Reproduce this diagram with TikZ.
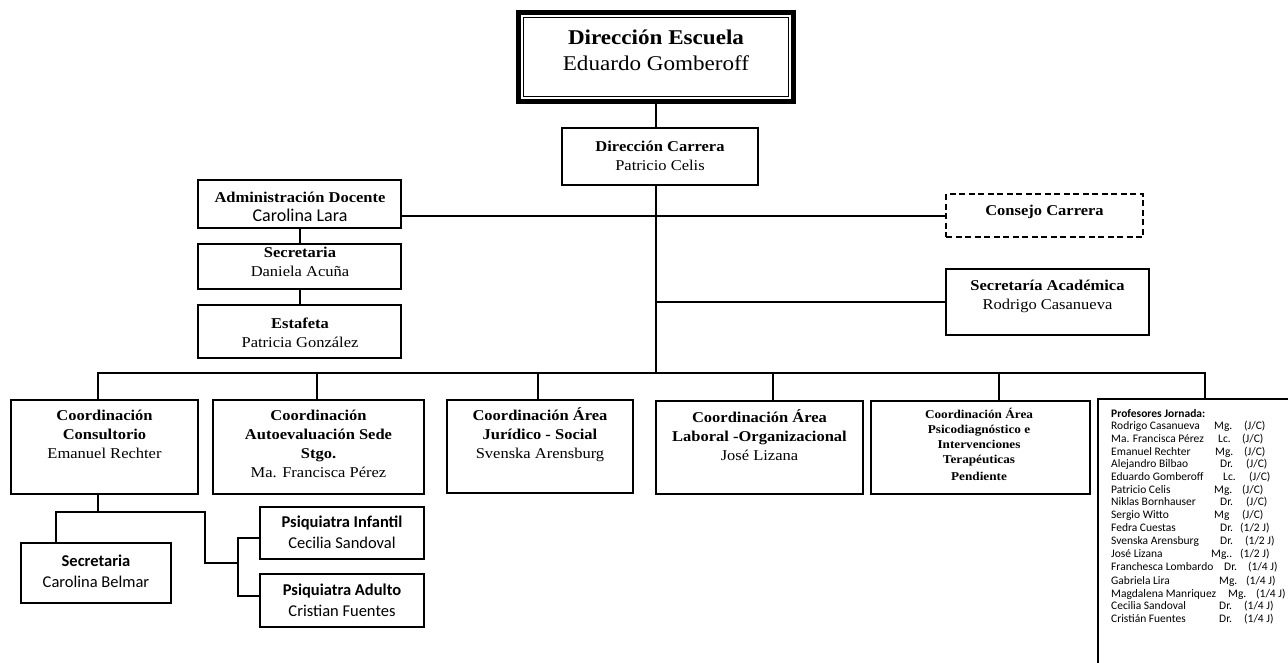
\documentclass[tikz,border=0pt]{standalone}
\usepackage{fontspec}
\setmainfont{Liberation Serif}[FakeStretch=1.1]
\newfontfamily\calib{Carlito}
\newcommand\szbig{\fontsize{21}{26}\selectfont}
\newcommand\szmid{\fontsize{15}{19}\selectfont}
\newcommand\szsml{\fontsize{12}{15}\selectfont}
\newcommand\szsan{\calib\fontsize{16.5}{21}\selectfont}
\newcommand\szlst{\calib\fontsize{11.5}{13}\selectfont}
\begin{document}
\begin{tikzpicture}[x=1pt,y=-1pt,
  box/.style={draw, line width=2.3pt, inner sep=0pt, outer sep=0pt},
  conn/.style={line width=2pt},
  txt/.style={align=center, inner sep=0pt},
  prl/.style={anchor=west, inner sep=0pt, text height=8.5pt, text depth=3pt, font=\szlst}]
\useasboundingbox (0,0) rectangle (1288,662);
\clip (0,0) rectangle (1288,662);
\fill[white] (0,0) rectangle (1288,662);

% top
\node[draw, line width=5pt, minimum width=275pt, minimum height=89pt, inner sep=0pt, outer sep=0pt] (esc) at (656,57) {};
\draw[line width=1.2pt] ([xshift=5.2pt,yshift=-5.2pt]esc.north west) rectangle ([xshift=-5.2pt,yshift=5.2pt]esc.south east);
\node[txt, font=\szbig] (esct) at (656,50) {\textbf{Dirección Escuela}\\Eduardo Gomberoff};

\node[box, minimum width=196pt, minimum height=57pt] (dcar) at (660,156.5) {};
\node[txt, font=\szmid] (dcart) at (660,155.5) {\textbf{Dirección Carrera}\\Patricio Celis};

% left staff column
\node[box, minimum width=203pt, minimum height=48pt] (adm) at (299.5,204) {};
\node[txt, font=\szmid] (admt) at (300,207) {\textbf{Administración Docente}\\{\calib\fontsize{18}{20}\selectfont Carolina Lara}};
\node[box, minimum width=203pt, minimum height=45pt] (sec1) at (299.5,266.5) {};
\node[txt, font=\szmid] (sec1t) at (300,262) {\textbf{Secretaria}\\Daniela Acuña};
\node[box, minimum width=203pt, minimum height=53pt] (est) at (299.5,331.5) {};
\node[txt, font=\szmid] (estt) at (300,333) {\textbf{Estafeta}\\Patricia González};

% right staff
\node[box, dash pattern=on 6pt off 3.5pt, minimum width=197pt, minimum height=43pt] (cons) at (1044.5,215.5) {};
\node[txt, font=\szmid] (const) at (1044.5,212) {\textbf{Consejo Carrera}};
\node[box, minimum width=203pt, minimum height=66pt] (sacad) at (1047.5,302) {};
\node[txt, font=\szmid] (sacadt) at (1047.5,296) {\textbf{Secretaría Académica}\\Rodrigo Casanueva};

% coordination row
\node[box, minimum width=187pt, minimum height=94pt] (c1) at (104.5,447) {};
\node[txt, font=\szmid] (c1t) at (104.5,434.5) {\textbf{Coordinación}\\\textbf{Consultorio}\\Emanuel Rechter};
\node[box, minimum width=211pt, minimum height=94pt] (c2) at (318.5,447) {};
\node[txt, font=\szmid] (c2t) at (318.5,444) {\textbf{Coordinación}\\\textbf{Autoevaluación Sede}\\\textbf{Stgo.}\\Ma. Francisca Pérez};
\node[box, minimum width=186pt, minimum height=93pt] (c3) at (540,446.5) {};
\node[txt, font=\szmid] (c3t) at (540,435) {\textbf{Coordinación Área}\\\textbf{Jurídico - Social}\\Svenska Arensburg};
\node[box, minimum width=207pt, minimum height=93pt] (c4) at (759.5,447.5) {};
\node[txt, font=\szmid] (c4t) at (759.5,435.5) {\textbf{Coordinación Área}\\\textbf{Laboral -Organizacional}\\José Lizana};
\node[box, minimum width=219pt, minimum height=93pt] (c5) at (980.5,447.5) {};
\node[txt, font=\szsml] (c5t) at (979,444.5) {\textbf{Coordinación Área}\\\textbf{Psicodiagnóstico e}\\\textbf{Intervenciones}\\\textbf{Terapéuticas}\\[2pt]\textbf{Pendiente}};
\node[box, minimum width=214pt, minimum height=320pt, anchor=north] (prof) at (1205,399) {};

% professors list
\node[prl] (profh) at (1111,415) {\textbf{Profesores Jornada:}};
\foreach \vy/\vn/\vt/\vtx/\vj/\vjx [count=\i] in {
 427/Rodrigo Casanueva/Mg./1214/{(J/C)}/1244,
 440/Ma. Francisca Pérez/Lc./1218/{(J/C)}/1242,
 453/Emanuel Rechter/Mg./1215/{(J/C)}/1244,
 465/Alejandro Bilbao/Dr./1220/{(J/C)}/1246,
 478/Eduardo Gomberoff/Lc./1223/{(J/C)}/1249,
 491/Patricio Celis/Mg./1214/{(J/C)}/1242,
 503/Niklas Bornhauser/Dr./1220/{(J/C)}/1246,
 516/Sergio Witto/Mg/1214/{(J/C)}/1242,
 529/Fedra Cuestas/Dr./1220/{(1/2 J)}/1240,
 542/Svenska Arensburg/Dr./1220/{(1/2 J)}/1245,
 555/José Lizana/Mg../1211/{(1/2 J)}/1240,
 568/Franchesca Lombardo/Dr./1224/{(1/4 J)}/1248,
 582/Gabriela Lira/Mg./1219/{(1/4 J)}/1246,
 595/Magdalena Manriquez/Mg./1228/{(1/4 J)}/1256,
 607/Cecilia Sandoval/Dr./1219/{(1/4 J)}/1244,
 620/Cristián Fuentes/Dr./1219/{(1/4 J)}/1244} {
  \node[prl] (pn\i) at (1111,\vy) {\vn};
  \node[prl] (pt\i) at (\vtx,\vy) {\vt};
  \node[prl] (pj\i) at (\vjx,\vy) {\vj};
}

% consultorio subtree
\node[box, minimum width=150pt, minimum height=60pt] (sec2) at (96,573) {};
\node[txt, font=\szsan] (sec2t) at (96,571) {\textbf{Secretaria}\\Carolina Belmar};
\node[box, minimum width=164pt, minimum height=52pt] (psi1) at (342,533) {};
\node[txt, font=\szsan] (psi1t) at (342,532) {\textbf{Psiquiatra Infantil}\\Cecilia Sandoval};
\node[box, minimum width=164pt, minimum height=53pt] (psi2) at (342,600.5) {};
\node[txt, font=\szsan] (psi2t) at (342,600) {\textbf{Psiquiatra Adulto}\\Cristian Fuentes};

% connectors
\coordinate (bus) at (656,373);
\draw[conn] (esc.south) -- (esc.south |- dcar.north);
\draw[conn] (esc.south |- dcar.south) -- (bus);
\draw[conn] (adm.south) -- (sec1.north);
\draw[conn] (sec1.south) -- (est.north);
\draw[conn] (cons.west) -- (cons.west -| adm.east);
\draw[conn] (sacad.west) -- (sacad.west -| bus);
\draw[conn] ([xshift=-6.5pt]c1.north) |- (bus) -| (prof.north);
\draw[conn] ([xshift=-1.5pt]c2.north) -- ([xshift=-1.5pt]c2.north |- bus);
\draw[conn] ([xshift=-2pt]c3.north) -- ([xshift=-2pt]c3.north |- bus);
\draw[conn] ([xshift=13.5pt]c4.north) -- ([xshift=13.5pt]c4.north |- bus);
\draw[conn] ([xshift=18.5pt]c5.north) -- ([xshift=18.5pt]c5.north |- bus);

\coordinate (k1) at (98,512);
\coordinate (k2) at (205,563);
\coordinate (k3) at (238,538);
\coordinate (k4) at (238,596);
\draw[conn] (c1.south -| k1) -- (k1);
\draw[conn] ([xshift=-40pt]sec2.north) |- (k1) -| (k2) -- (k2 -| k3);
\draw[conn] (psi1.west |- k3) -- (k3) -- (k4) -- (psi2.west |- k4);
\end{tikzpicture}
\end{document}
